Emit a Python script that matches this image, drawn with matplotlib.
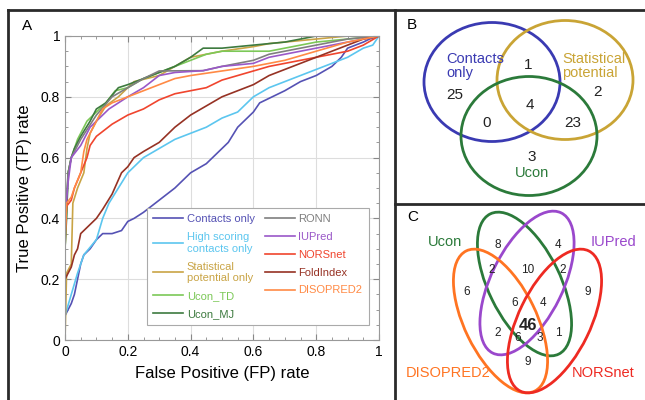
import numpy as np
import matplotlib
matplotlib.use("Agg")
import matplotlib.pyplot as plt
from matplotlib.patches import Ellipse
from matplotlib.ticker import MultipleLocator, FuncFormatter

plt.rcParams['font.family'] = ['Liberation Sans', 'DejaVu Sans']

# ---- panel A: ROC curves (FPR, TPR) ----
contacts_fpr = [0, 0.01, 0.02, 0.03, 0.04, 0.05, 0.06, 0.08, 0.1, 0.12, 0.15, 0.18, 0.2, 0.22, 0.25, 0.3,
                0.35, 0.4, 0.45, 0.5, 0.52, 0.55, 0.6, 0.62, 0.7, 0.75, 0.8, 0.85, 0.88, 0.9, 0.95, 0.97, 1]
contacts_tpr = [0.08, 0.1, 0.12, 0.15, 0.2, 0.25, 0.28, 0.3, 0.33, 0.35, 0.35, 0.36, 0.39, 0.4, 0.42, 0.46,
                0.5, 0.55, 0.58, 0.63, 0.65, 0.7, 0.75, 0.78, 0.82, 0.85, 0.87, 0.9, 0.93, 0.96, 0.98, 0.99, 1]

high_fpr = [0, 0.02, 0.04, 0.06, 0.1, 0.12, 0.14, 0.17, 0.2, 0.25, 0.3, 0.35, 0.4, 0.45, 0.5, 0.55,
            0.6, 0.65, 0.7, 0.75, 0.8, 0.85, 0.9, 0.95, 0.98, 1]
high_tpr = [0.08, 0.15, 0.22, 0.28, 0.33, 0.4, 0.45, 0.5, 0.55, 0.6, 0.63, 0.66, 0.68, 0.7, 0.73, 0.75,
            0.8, 0.83, 0.85, 0.87, 0.89, 0.91, 0.93, 0.96, 0.97, 1]

stat_fpr = [0, 0.005, 0.02, 0.025, 0.04, 0.06, 0.07, 0.08, 0.1, 0.13, 0.17, 0.2, 0.22, 0.3, 0.35, 0.4,
            0.45, 0.5, 0.6, 0.65, 0.7, 0.8, 0.9, 1]
stat_tpr = [0, 0.22, 0.25, 0.45, 0.5, 0.55, 0.63, 0.68, 0.72, 0.77, 0.8, 0.83, 0.85, 0.87, 0.9, 0.93,
            0.94, 0.95, 0.965, 0.975, 0.98, 0.99, 1, 1]

td_fpr = [0, 0.005, 0.01, 0.02, 0.04, 0.07, 0.1, 0.13, 0.16, 0.2, 0.25, 0.3, 0.35, 0.4, 0.45, 0.5,
          0.6, 0.65, 0.7, 0.8, 0.9, 1]
td_tpr = [0.3, 0.42, 0.55, 0.6, 0.66, 0.72, 0.75, 0.78, 0.82, 0.83, 0.86, 0.88, 0.9, 0.92, 0.94, 0.95,
          0.95, 0.95, 0.96, 0.98, 0.99, 1]

mj_fpr = [0, 0.005, 0.01, 0.02, 0.03, 0.05, 0.08, 0.1, 0.13, 0.17, 0.2, 0.25, 0.3, 0.35, 0.4, 0.44,
          0.5, 0.6, 0.65, 0.7, 0.8, 1]
mj_tpr = [0.3, 0.4, 0.55, 0.6, 0.63, 0.67, 0.72, 0.76, 0.78, 0.83, 0.84, 0.86, 0.88, 0.9, 0.93, 0.96,
          0.96, 0.97, 0.975, 0.98, 1, 1]

ronn_fpr = [0, 0.01, 0.02, 0.05, 0.1, 0.15, 0.2, 0.25, 0.3, 0.44, 0.5, 0.6, 0.65, 0.7, 0.8, 0.9, 1]
ronn_tpr = [0.4, 0.55, 0.6, 0.66, 0.74, 0.8, 0.83, 0.86, 0.885, 0.886, 0.9, 0.92, 0.94, 0.95, 0.97, 0.99, 1]

iupred_fpr = [0, 0.01, 0.02, 0.05, 0.08, 0.1, 0.14, 0.2, 0.25, 0.3, 0.35, 0.44, 0.5, 0.6, 0.65, 0.7,
              0.8, 0.9, 0.95, 1]
iupred_tpr = [0.4, 0.52, 0.6, 0.64, 0.7, 0.72, 0.76, 0.8, 0.83, 0.87, 0.88, 0.886, 0.9, 0.91, 0.93, 0.94,
              0.96, 0.98, 0.99, 1]

nors_fpr = [0, 0.005, 0.02, 0.03, 0.05, 0.07, 0.08, 0.1, 0.15, 0.2, 0.25, 0.3, 0.35, 0.4, 0.45, 0.5,
            0.55, 0.6, 0.65, 0.7, 0.8, 0.9, 0.95, 1]
nors_tpr = [0.35, 0.44, 0.46, 0.5, 0.55, 0.6, 0.64, 0.67, 0.71, 0.74, 0.76, 0.79, 0.81, 0.82, 0.83, 0.855,
            0.87, 0.885, 0.9, 0.91, 0.93, 0.95, 0.97, 1]

fold_fpr = [0, 0.01, 0.02, 0.03, 0.04, 0.05, 0.07, 0.1, 0.12, 0.15, 0.18, 0.2, 0.22, 0.25, 0.3, 0.33,
            0.35, 0.4, 0.45, 0.5, 0.55, 0.6, 0.65, 0.7, 0.75, 0.8, 0.85, 0.9, 0.95, 1]
fold_tpr = [0.2, 0.22, 0.24, 0.28, 0.3, 0.35, 0.37, 0.4, 0.43, 0.48, 0.55, 0.57, 0.6, 0.62, 0.65, 0.68,
            0.7, 0.74, 0.77, 0.8, 0.82, 0.84, 0.87, 0.89, 0.91, 0.93, 0.95, 0.97, 0.99, 1]

diso_fpr = [0, 0.005, 0.02, 0.03, 0.05, 0.06, 0.07, 0.1, 0.12, 0.15, 0.2, 0.25, 0.3, 0.35, 0.4, 0.5,
            0.6, 0.65, 0.7, 0.8, 0.9, 1]
diso_tpr = [0.3, 0.45, 0.47, 0.5, 0.55, 0.62, 0.66, 0.72, 0.76, 0.78, 0.8, 0.82, 0.84, 0.86, 0.87, 0.885,
            0.9, 0.91, 0.92, 0.95, 0.98, 1]

curves = [
    ("Contacts only", contacts_fpr, contacts_tpr, "#5552b4"),
    ("High scoring\ncontacts only", high_fpr, high_tpr, "#5cc6ef"),
    ("Statistical\npotential only", stat_fpr, stat_tpr, "#c9a445"),
    ("Ucon_TD", td_fpr, td_tpr, "#7cc857"),
    ("Ucon_MJ", mj_fpr, mj_tpr, "#3d7a3f"),
    ("RONN", ronn_fpr, ronn_tpr, "#7f7f7f"),
    ("IUPred", iupred_fpr, iupred_tpr, "#9a58c8"),
    ("NORSnet", nors_fpr, nors_tpr, "#f0452e"),
    ("FoldIndex", fold_fpr, fold_tpr, "#963224"),
    ("DISOPRED2", diso_fpr, diso_tpr, "#ff8a45"),
]

# ---- panel B: 3-set Venn counts ----
venn3_sets = ["Contacts\nonly", "Statistical\npotential", "Ucon"]
venn3_counts = [25, 2, 3, 1, 0, 23, 4]  # C, S, U, C&S, C&U, S&U, all

# ---- panel C: 4-set Venn counts ----
venn4_sets = ["Ucon", "IUPred", "DISOPRED2", "NORSnet"]
venn4_counts = [8, 4, 2, 10, 2, 6, 9, 6, 4, 46, 2, 1, 6, 3, 9]

fig = plt.figure(figsize=(6.45, 4.0), dpi=100)

# overlay in pixel coordinates for frames and Venn diagrams
ov = fig.add_axes([0, 0, 1, 1])
ov.set_xlim(0, 645)
ov.set_ylim(400, 0)
ov.axis("off")

frame = dict(color="#2a2a2a", lw=2)
ov.plot([8, 645], [10, 10], **frame)
ov.plot([8, 8], [10, 400], **frame)
ov.plot([395, 395], [10, 400], **frame)
ov.plot([395, 645], [204, 204], **frame)

ov.text(22, 26, "A", fontsize=11, va="center")
ov.text(407, 25, "B", fontsize=11, va="center")
ov.text(407, 217, "C", fontsize=11, va="center")

# panel B
b_centres = [(492, 82), (565, 80), (529, 136)]
b_colors = ["#3a3ab2", "#c9a435", "#2b7a3a"]
for (cx, cy), col in zip(b_centres, b_colors):
    ov.add_patch(Ellipse((cx, cy), 136, 119, fill=False, ec=col, lw=2))
ov.text(446, 66, venn3_sets[0], color=b_colors[0], fontsize=10.5, ha="left", va="center",
        linespacing=1.0)
ov.text(562, 66, venn3_sets[1], color=b_colors[1], fontsize=10.5, ha="left", va="center",
        linespacing=1.0)
ov.text(532, 173, venn3_sets[2], color=b_colors[2], fontsize=10.5, ha="center", va="center")
b_pos = [(455, 95), (598, 92), (532, 157), (528, 65), (487, 123), (573, 123), (530, 105)]
for (x, y), n in zip(b_pos, venn3_counts):
    ov.text(x, y, str(n), fontsize=11, ha="center", va="center", color="#222222")

# panel C
c_ell = [((524.5, 284), 64, "#2b7a3a"), ((527, 283), -64, "#9a48cc"),
         ((500.5, 321), 64, "#ff7422"), ((554.5, 321), -64, "#ee2a22")]
for (cx, cy), ang, col in c_ell:
    ov.add_patch(Ellipse((cx, cy), 156, 72, angle=ang, fill=False, ec=col, lw=2))
c_lab = [(445, 242), (613, 242), (448, 373), (603, 373)]
for (x, y), name, (_, _, col) in zip(c_lab, venn4_sets, c_ell):
    ov.text(x, y, name, color=col, fontsize=10.5, ha="center", va="center")
c_pos = [(498, 245), (558, 245), (492, 270), (528, 270), (563, 270), (467, 292), (588, 292),
         (515, 303), (543, 303), (528, 325), (498, 333), (558, 333), (518, 338), (540, 338),
         (528, 362)]
for (x, y), n in zip(c_pos, venn4_counts):
    ov.text(x, y, str(n), fontsize=12 if n == 46 else 8.5, ha="center", va="center",
            fontweight="bold" if n == 46 else "normal", color="#222222")

# panel A
ax = fig.add_axes([65 / 645, 60 / 400, 314 / 645, 304 / 400])
for name, fx, ty, col in curves:
    ax.plot(fx, ty, color=col, lw=1.2, label=name)
ax.set_xlim(0, 1)
ax.set_ylim(0, 1)
ax.xaxis.set_major_locator(MultipleLocator(0.2))
ax.yaxis.set_major_locator(MultipleLocator(0.2))
ax.xaxis.set_minor_locator(MultipleLocator(0.05))
ax.yaxis.set_minor_locator(MultipleLocator(0.05))
fmt = FuncFormatter(lambda v, p: "%g" % round(v, 2))
ax.xaxis.set_major_formatter(fmt)
ax.yaxis.set_major_formatter(fmt)
ax.tick_params(which="both", direction="in", top=True, right=True, color="#888888",
               labelsize=10)
ax.tick_params(which="major", length=4)
ax.tick_params(which="minor", length=2)
ax.grid(True, color="#dddddd", lw=0.8)
for s in ax.spines.values():
    s.set_color("#999999")
ax.set_xlabel("False Positive (FP) rate", fontsize=12, labelpad=5)
ax.set_ylabel("True Positive (TP) rate", fontsize=12, labelpad=6)

leg = ax.legend(ncol=2, loc="lower right", bbox_to_anchor=(0.985, 0.03), fontsize=8,
                labelcolor="linecolor", handlelength=2.7, fancybox=False, edgecolor="#aaaaaa",
                framealpha=1, columnspacing=0.9, labelspacing=0.7, handletextpad=0.3,
                borderpad=0.6)
leg.get_frame().set_linewidth(0.8)

fig.savefig("out.png", dpi=100)
